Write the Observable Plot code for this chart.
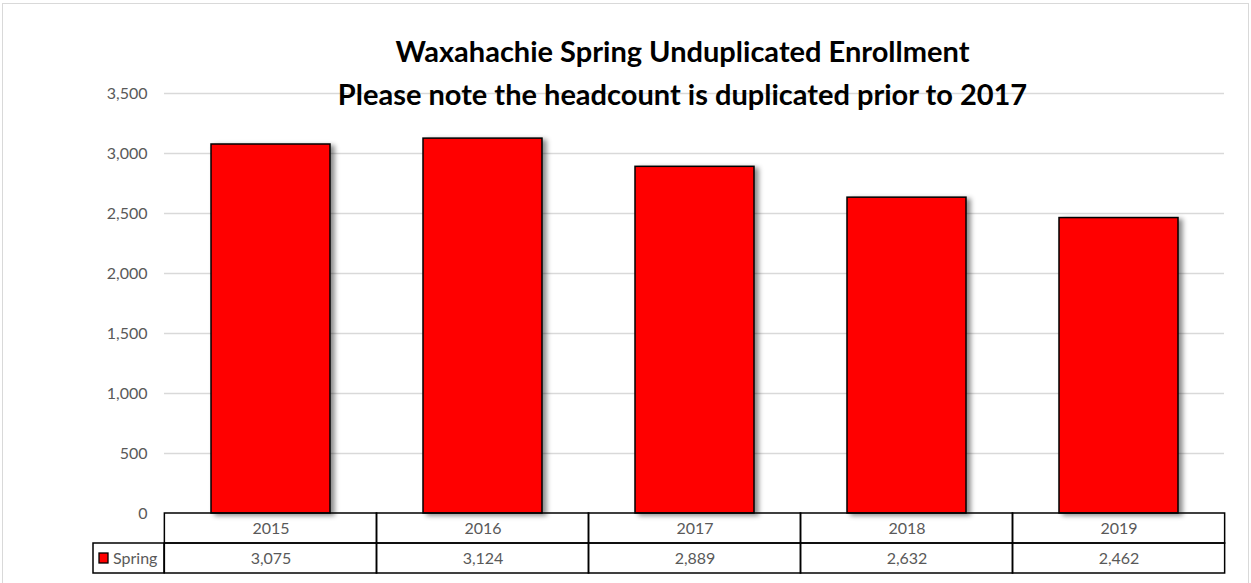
<!DOCTYPE html>
<html><head><meta charset="utf-8">
<script src="https://cdn.jsdelivr.net/npm/d3@7"></script>
<script src="https://cdn.jsdelivr.net/npm/@observablehq/plot@0.6"></script>
<style>
body{margin:0;background:#fff;}
#wrap{position:relative;width:1251px;height:583px;overflow:hidden;}
#wrap svg{position:absolute;left:0;top:0;}
#border{position:absolute;left:2px;top:3px;width:1247px;height:620px;border:1.5px solid #d9d9d9;box-sizing:border-box;}
</style></head><body><div id="wrap"><div id="border"></div></div>
<script>
const years = ["2015", "2016", "2017", "2018", "2019"];
const spring = [3075, 3124, 2889, 2632, 2462];
const yTicks = [0, 500, 1000, 1500, 2000, 2500, 3000, 3500];
const seriesName = "Spring";
const title1 = "Waxahachie Spring Unduplicated Enrollment";
const title2 = "Please note the headcount is duplicated prior to 2017";

const W = 1251, H = 583;
const ML = 164, MR = 27, MT = 93, MB = 70;
const PAD_INNER = 0.44;
const step = (W - ML - MR) / years.length;
const half = step * PAD_INNER / 2;
const ROW = 250; // table row height in y units
const FONT = "Lato, 'Open Sans', sans-serif";
const FS = 16;

const data = years.map((year, i) => ({year, value: spring[i]}));
const fmt = d3.format(",");

const chart = Plot.plot({
  width: W, height: H,
  marginLeft: ML, marginRight: MR, marginTop: MT, marginBottom: MB,
  style: {fontFamily: FONT, fontSize: FS + "px", background: "transparent"},
  x: {domain: years, paddingInner: PAD_INNER, paddingOuter: PAD_INNER / 2, axis: null},
  y: {domain: [0, 3500], axis: null},
  marks: [
    Plot.gridY(yTicks.slice(1), {stroke: "#d9d9d9", strokeOpacity: 1, strokeWidth: 1.5}),
    Plot.axisY(yTicks, {tickSize: 0, tickPadding: 17, color: "#595959", fontSize: FS, tickFormat: fmt, label: null}),
    Plot.barY(data, {x: "year", y: "value", fill: "#ff0000", stroke: "#000", strokeWidth: 1.5}),
    Plot.barY(years, {x: d => d, y1: -ROW, y2: 0, fill: "none", stroke: "#000", strokeWidth: 1.5, insetLeft: -half, insetRight: -half}),
    Plot.barY(years, {x: d => d, y1: -2 * ROW, y2: -ROW, fill: "none", stroke: "#000", strokeWidth: 1.5, insetLeft: -half, insetRight: -half}),
    Plot.text(years, {x: d => d, y: -ROW / 2, text: d => d, fill: "#595959", fontSize: FS}),
    Plot.text(data, {x: "year", y: -ROW * 1.5, text: d => fmt(d.value), fill: "#595959", fontSize: FS}),
    Plot.text([title1], {frameAnchor: "top", dx: -12, dy: -52, text: d => d, fontWeight: "bold", fontSize: 29, fill: "#000"}),
    Plot.text([title2], {frameAnchor: "top", dx: -12, dy: -9, text: d => d, fontWeight: "bold", fontSize: 29, fill: "#000"})
  ]
});

// soft shadow on the data bars
const barGroups = d3.select(chart).selectAll('g[aria-label="bar"]').nodes();
if (barGroups.length) barGroups[0].setAttribute("style", "filter: drop-shadow(4px 2px 2.5px rgba(0,0,0,0.45))");

// legend cell of the data table
const ys = chart.scale("y");
const yTop = ys.apply(-ROW), yBot = ys.apply(-2 * ROW);
const LEG_W = 71;
const g = d3.select(chart).append("g").attr("text-anchor", "start");
g.append("rect").attr("x", ML - LEG_W).attr("y", yTop).attr("width", LEG_W).attr("height", yBot - yTop)
  .attr("fill", "none").attr("stroke", "#000").attr("stroke-width", 1.5);
g.append("rect").attr("x", ML - LEG_W + 6).attr("y", (yTop + yBot) / 2 - 5).attr("width", 9).attr("height", 10)
  .attr("fill", "#ff0000").attr("stroke", "#000").attr("stroke-width", 1.3);
g.append("text").attr("x", ML - LEG_W + 20).attr("y", (yTop + yBot) / 2).attr("dy", "0.35em")
  .attr("text-anchor", "start").attr("fill", "#595959").attr("font-size", FS).text(seriesName);

document.getElementById("wrap").appendChild(chart);
</script>
</body></html>
